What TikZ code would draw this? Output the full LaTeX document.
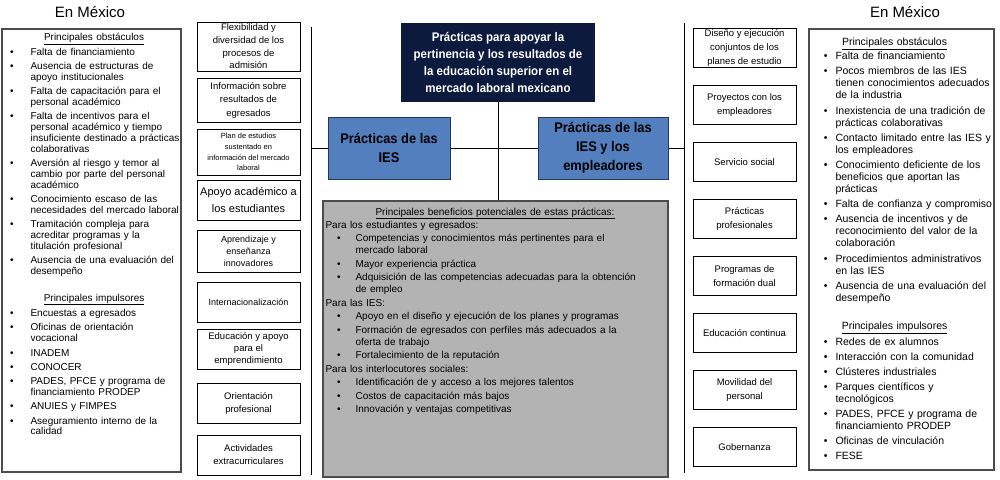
\documentclass[tikz,border=0pt]{standalone}
\usepackage{fontspec}
\setmainfont{Liberation Sans}
\newfontfamily\condfont{Liberation Sans}[FakeStretch=0.92]
\usepackage{xcolor}
\usepackage{enumitem}
\usetikzlibrary{calc, positioning}
\setlist[itemize]{label=\textbullet,parsep=0pt,partopsep=0pt}
\definecolor{navy}{RGB}{12,26,62}
\definecolor{iesblue}{RGB}{84,127,190}
\definecolor{iesline}{RGB}{35,55,90}
\definecolor{bengray}{RGB}{179,179,179}
\begin{document}
\begin{tikzpicture}[x=1pt,y=-1pt,-,node distance=57pt,
    title node/.style={font=\fontsize{15}{18}\selectfont,anchor=base,inner sep=0pt},
    side box/.style={draw=black!70,line width=1.3pt,inner sep=0pt},
    list text/.style={inner sep=0pt,anchor=north west,align=left},
    lsmall/.style={draw,line width=0.8pt,minimum width=103pt,inner sep=0pt,align=center,
                   font=\fontsize{9.5}{12.7}\selectfont},
    rsmall/.style={draw,line width=0.8pt,minimum width=103pt,minimum height=39pt,inner sep=0pt,
                   align=center,font=\fontsize{9.5}{14}\selectfont},
    top node/.style={fill=navy,text=white,minimum width=194pt,minimum height=79pt,inner sep=0pt,
                   align=center,font=\condfont\bfseries\fontsize{12.5}{17}\selectfont},
    ies node/.style={fill=iesblue,draw=iesline,line width=1pt,minimum height=62pt,inner sep=0pt,
                   align=center,font=\condfont\bfseries\fontsize{14}{19}\selectfont},
    conn/.style={draw=black,line width=0.9pt}]

  \useasboundingbox (0,0) rectangle (1000,479);

  % titles and side boxes
  \node[title node] (ltitle) at (90,17.5) {En México};
  \node[title node] (rtitle) at (905,17.5) {En México};
  \node[side box,minimum width=179pt,minimum height=443pt] (lbox) at (91.5,250.5) {};
  \node[side box,minimum width=185pt,minimum height=441pt] (rbox) at (901.5,249.5) {};

  \node[list text,text width=177pt,font=\fontsize{10}{10.8}\selectfont] (ltxt)
    at ([xshift=4pt,yshift=-4.8pt]lbox.north west) {%
    \centering\underline{Principales obstáculos}\par\raggedright
    \begin{itemize}[leftmargin=25pt,labelsep=17pt,itemsep=3.5pt,topsep=2.2pt]
      \item Falta de financiamiento
      \item Ausencia de estructuras de\\apoyo institucionales
      \item Falta de capacitación para el\\personal académico
      \item Falta de incentivos para el\\personal académico y tiempo\\insuficiente destinado a prácticas\\colaborativas
      \item Aversión al riesgo y temor al\\cambio por parte del personal\\académico
      \item Conocimiento escaso de las\\necesidades del mercado laboral
      \item Tramitación compleja para\\acreditar programas y la\\titulación profesional
      \item Ausencia de una evaluación del\\desempeño
    \end{itemize}
    \vspace{14pt}
    {\centering\underline{Principales impulsores}\par}
    \begin{itemize}[leftmargin=25pt,labelsep=17pt,itemsep=3.5pt,topsep=3.2pt]
      \item Encuestas a egresados
      \item Oficinas de orientación\\vocacional
      \item INADEM
      \item CONOCER
      \item PADES, PFCE y programa de\\financiamiento PRODEP
      \item ANUIES y FIMPES
      \item Aseguramiento interno de la\\calidad
    \end{itemize}};

  \node[list text,text width=200pt,font=\fontsize{10.5}{12}\selectfont] (rtxt)
    at ([xshift=4pt,yshift=-9.5pt]rbox.north west) {%
    \hspace*{-9pt}\parbox{182pt}{\centering\underline{Principales obstáculos}}\par\raggedright
    \begin{itemize}[leftmargin=23pt,labelsep=8pt,itemsep=3.2pt,topsep=1pt]
      \item Falta de financiamiento
      \item Pocos miembros de las IES\\tienen conocimientos adecuados\\de la industria
      \item Inexistencia de una tradición de\\prácticas colaborativas
      \item Contacto limitado entre las IES y\\los empleadores
      \item Conocimiento deficiente de los\\beneficios que aportan las\\prácticas
      \item Falta de confianza y compromiso
      \item Ausencia de incentivos y de\\reconocimiento del valor de la\\colaboración
      \item Procedimientos administrativos\\en las IES
      \item Ausencia de una evaluación del\\desempeño
    \end{itemize}
    \vspace{16pt}
    \hspace*{-9pt}\parbox{182pt}{\centering\underline{Principales impulsores}}\par
    \begin{itemize}[leftmargin=23pt,labelsep=8pt,itemsep=3pt,topsep=3pt]
      \item Redes de ex alumnos
      \item Interacción con la comunidad
      \item Clústeres industriales
      \item Parques científicos y\\tecnológicos
      \item PADES, PFCE y programa de\\financiamiento PRODEP
      \item Oficinas de vinculación
      \item FESE
    \end{itemize}};

  % left column of practices
  \node[lsmall,minimum height=49pt] (l1) at (248.5,46.5) {Flexibilidad y\\diversidad de los\\procesos de\\admisión};
  \node[lsmall,minimum height=44pt,font=\fontsize{9.5}{13.5}\selectfont] (l2) at (248.5,100) {Información sobre\\resultados de\\egresados};
  \node[lsmall,minimum height=46pt,font=\fontsize{7.5}{10.7}\selectfont] (l3) at (248.5,152) {Plan de estudios\\sustentado en\\información del mercado\\laboral};
  \node[lsmall,minimum height=40pt,font=\fontsize{11}{17}\selectfont] (l4) at (248.5,200) {Apoyo académico a\\los estudiantes};
  \node[lsmall,minimum height=42pt,font=\fontsize{9}{12}\selectfont] (l5) at (248.5,251) {Aprendizaje y\\enseñanza\\innovadores};
  \node[lsmall,minimum height=40pt,font=\fontsize{9}{12}\selectfont] (l6) at (248.5,302) {Internacionalización};
  \node[lsmall,minimum height=40pt,font=\fontsize{9.5}{12}\selectfont] (l7) at (248.5,349) {Educación y apoyo\\para el\\emprendimiento};
  \node[lsmall,minimum height=40pt,font=\fontsize{9.5}{13}\selectfont] (l8) at (248.5,403) {Orientación\\profesional};
  \node[lsmall,minimum height=40pt,font=\fontsize{9.5}{13}\selectfont] (l9) at (248.5,455) {Actividades\\extracurriculares};

  % right column of practices
  \node[rsmall] (r1) at (744.5,48) {Diseño y ejecución\\conjuntos de los\\planes de estudio};
  \node[rsmall] (r2) [below of=r1] {Proyectos con los\\empleadores};
  \node[rsmall] (r3) [below of=r2] {Servicio social};
  \node[rsmall] (r4) [below of=r3] {Prácticas\\profesionales};
  \node[rsmall] (r5) [below of=r4] {Programas de\\formación dual};
  \node[rsmall] (r6) [below of=r5] {Educación continua};
  \node[rsmall] (r7) [below of=r6] {Movilidad del\\personal};
  \node[rsmall] (r8) [below of=r7] {Gobernanza};

  % centre
  \node[top node] (top) at (498,62.5) {Prácticas para apoyar la\\pertinencia y los resultados de\\la educación superior en el\\mercado laboral mexicano};
  \node[ies node,minimum width=122pt] (ies) at (389,148) {Prácticas de las\\IES};
  \node[ies node,minimum width=130pt] (emp) at (603,148) {Prácticas de las\\IES y los\\empleadores};
  \node[side box,fill=bengray,minimum width=345pt,minimum height=276pt] (ben) at (495.5,339) {};

  \node[list text,text width=339pt,font=\fontsize{10}{12}\selectfont] (btxt)
    at ([xshift=3pt,yshift=-7.3pt]ben.north west) {%
    \centering\underline{Principales beneficios potenciales de estas prácticas:}\par\raggedright
    \vspace{1pt}Para los estudiantes y egresados:
    \begin{itemize}[leftmargin=30pt,labelsep=15pt,itemsep=1.5pt,topsep=1.5pt]
      \item Competencias y conocimientos más pertinentes para el\\mercado laboral
      \item Mayor experiencia práctica
      \item Adquisición de las competencias adecuadas para la obtención\\de empleo
    \end{itemize}
    Para las IES:
    \begin{itemize}[leftmargin=30pt,labelsep=15pt,itemsep=1.5pt,topsep=1.5pt]
      \item Apoyo en el diseño y ejecución de los planes y programas
      \item Formación de egresados con perfiles más adecuados a la\\oferta de trabajo
      \item Fortalecimiento de la reputación
    \end{itemize}
    Para los interlocutores sociales:
    \begin{itemize}[leftmargin=30pt,labelsep=15pt,itemsep=1.5pt,topsep=1.5pt]
      \item Identificación de y acceso a los mejores talentos
      \item Costos de capacitación más bajos
      \item Innovación y ventajas competitivas
    \end{itemize}};

  % connectors
  \coordinate (ltop) at (311,27);
  \coordinate (lbot) at (311,475);
  \coordinate (rtop) at (684,23);
  \coordinate (rbot) at (684,473);
  \draw[conn] (ltop) -- (lbot);
  \draw[conn] (rtop) -- (rbot);
  \draw[conn] (ltop |- ies.west) -- (ies.west);
  \path[conn]
    (ies) edge (emp)
    (emp.east) edge (rtop |- emp.east);
  \draw[conn] (top.south) -- (top.south |- ben.north);

\end{tikzpicture}
\end{document}
